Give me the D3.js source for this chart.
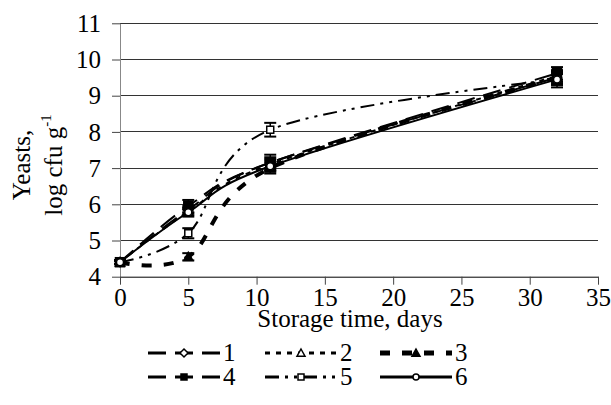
<!DOCTYPE html>
<html><head><meta charset="utf-8">
<script src="https://cdn.jsdelivr.net/npm/d3@7"></script>
<style>
html,body{margin:0;padding:0;background:#fff;}
svg{display:block;}
svg text{font-family:"Liberation Serif","Times New Roman",serif;fill:#000;}
</style></head>
<body>
<svg id="chart" width="611" height="405"></svg>
<script>
const days = [0, 5, 11, 32];
const s1 = [4.4, 5.85, 7.15, 9.5];
const s2 = [4.4, 5.8, 7.1, 9.55];
const s3 = [4.4, 4.55, 7.0, 9.5];
const s4 = [4.4, 5.95, 7.15, 9.62];
const s5 = [4.4, 5.2, 8.06, 9.45];
const s6 = [4.4, 5.78, 7.05, 9.45];
const e1 = [0.05, 0.1, 0.15, 0.15];
const e2 = [0.05, 0.1, 0.15, 0.15];
const e3 = [0.05, 0.1, 0.15, 0.2];
const e4 = [0.05, 0.17, 0.22, 0.17];
const e5 = [0.05, 0.14, 0.19, 0.22];
const e6 = [0.05, 0.12, 0.15, 0.15];
const seriesNames = ["1", "2", "3", "4", "5", "6"];
const xTicks = [0, 5, 10, 15, 20, 25, 30, 35];
const yTicks = [4, 5, 6, 7, 8, 9, 10, 11];
const xTitle = "Storage time, days";
const yTitle1 = "Yeasts,";
const yTitle2 = "log cfu g";

const styles = [
  {dash: "18,9", width: 2, marker: "diamond", fill: "#fff"},
  {dash: "5,6", width: 2, marker: "triangle", fill: "#fff"},
  {dash: "10,12", width: 4, marker: "triangle", fill: "#000"},
  {dash: "18,9", width: 2, marker: "square", fill: "#000"},
  {dash: "14,6,3,6,3,6", width: 2, marker: "square", fill: "#fff"},
  {dash: null, width: 2, marker: "circle", fill: "#fff"}
];
const vals = [s1, s2, s3, s4, s5, s6];
const errs = [e1, e2, e3, e4, e5, e6];

const svg = d3.select("#chart");
const x = d3.scaleLinear().domain([0, 35]).range([120, 598]);
const y = d3.scaleLinear().domain([4, 11]).range([276.7, 23.3]);
const FS = 25;

// gridlines
svg.append("g").selectAll("line").data(yTicks.filter(t => t > 4)).join("line")
  .attr("x1", x(0)).attr("x2", x(35))
  .attr("y1", d => y(d)).attr("y2", d => y(d))
  .attr("stroke", "#333").attr("stroke-width", 1).attr("shape-rendering", "crispEdges");

// y axis
const yAxis = svg.append("g").attr("transform", `translate(${x(0)},0)`)
  .call(d3.axisLeft(y).tickValues(yTicks).tickFormat(d3.format("d")).tickSize(8).tickSizeOuter(0).tickPadding(11));
yAxis.attr("font-family", null).attr("font-size", null);
yAxis.select(".domain").attr("stroke", "#888");
yAxis.selectAll(".tick line").attr("stroke", "#444");
yAxis.selectAll("text").style("font-size", FS + "px").attr("dy", "0.33em");

// x axis
const xAxis = svg.append("g").attr("transform", `translate(0,${y(4)})`)
  .call(d3.axisBottom(x).tickValues(xTicks).tickFormat(d3.format("d")).tickSize(8).tickSizeOuter(0).tickPadding(0));
xAxis.attr("font-family", null).attr("font-size", null);
xAxis.select(".domain").attr("stroke", "#000");
xAxis.selectAll(".tick line").attr("stroke", "#444");
xAxis.selectAll("text").style("font-size", FS + "px").attr("dy", null).attr("y", 29);

// titles
svg.append("text").attr("x", 350).attr("y", 327).attr("text-anchor", "middle")
  .style("font-size", FS + "px").text(xTitle);
svg.append("text").attr("transform", "translate(30,165) rotate(-90)").attr("text-anchor", "middle")
  .style("font-size", FS + "px").text(yTitle1);
const t2 = svg.append("text").attr("transform", "translate(62,165) rotate(-90)").attr("text-anchor", "middle")
  .style("font-size", FS + "px");
t2.append("tspan").text(yTitle2);
t2.append("tspan").style("font-size", "15px").attr("dy", -11).text("-1");

// lines
const line = d3.line().x(d => x(d[0])).y(d => y(d[1])).curve(d3.curveCardinal.tension(0));
vals.forEach((v, i) => {
  const pts = days.map((d, j) => [d, v[j]]);
  svg.append("path").attr("d", line(pts)).attr("fill", "none").attr("stroke", "#000")
    .attr("stroke-width", styles[i].width).attr("stroke-dasharray", styles[i].dash);
});

function drawMarker(g, type, fill, cx, cy, s) {
  if (type === "square") {
    g.append("rect").attr("x", cx - s/2).attr("y", cy - s/2).attr("width", s).attr("height", s)
      .attr("fill", fill).attr("stroke", "#000").attr("stroke-width", 1.5);
  } else if (type === "circle") {
    g.append("circle").attr("cx", cx).attr("cy", cy).attr("r", s/2)
      .attr("fill", fill).attr("stroke", "#000").attr("stroke-width", 1.5);
  } else if (type === "diamond") {
    const r = s/2 + 1;
    g.append("path").attr("d", `M${cx},${cy-r}L${cx+r},${cy}L${cx},${cy+r}L${cx-r},${cy}Z`)
      .attr("fill", fill).attr("stroke", "#000").attr("stroke-width", 1.5);
  } else if (type === "triangle") {
    const r = s/2 + 1;
    g.append("path").attr("d", `M${cx},${cy-r}L${cx+r},${cy+r*0.8}L${cx-r},${cy+r*0.8}Z`)
      .attr("fill", fill).attr("stroke", "#000").attr("stroke-width", 1.5);
  }
}

// error bars + markers
vals.forEach((v, i) => {
  const g = svg.append("g");
  days.forEach((d, j) => {
    const cx = x(d), e = errs[i][j];
    g.append("line").attr("x1", cx).attr("x2", cx).attr("y1", y(v[j] + e)).attr("y2", y(v[j] - e))
      .attr("stroke", "#000").attr("stroke-width", 1.5);
    [v[j] + e, v[j] - e].forEach(vv => {
      g.append("line").attr("x1", cx - 6).attr("x2", cx + 6).attr("y1", y(vv)).attr("y2", y(vv))
        .attr("stroke", "#000").attr("stroke-width", 2);
    });
  });
  days.forEach((d, j) => drawMarker(g, styles[i].marker, styles[i].fill, x(d), y(v[j]),
    styles[i].marker === "square" && styles[i].fill === "#000" ? 9 : 7));
});

// legend
const legX = [148, 265, 380];
const legY = [353, 377];
seriesNames.forEach((name, i) => {
  const col = i % 3, row = Math.floor(i / 3);
  const x0 = legX[col], x1 = x0 + 72, yy = legY[row];
  const g = svg.append("g");
  g.append("line").attr("x1", x0).attr("x2", x1).attr("y1", yy).attr("y2", yy)
    .attr("stroke", "#000").attr("stroke-width", styles[i].width + 1)
    .attr("stroke-dasharray", styles[i].dash);
  drawMarker(g, styles[i].marker, styles[i].fill, (x0 + x1) / 2, yy, 6);
  g.append("text").attr("x", x1 + 3).attr("y", yy + 8).style("font-size", FS + "px").text(name);
});
</script>
</body></html>
